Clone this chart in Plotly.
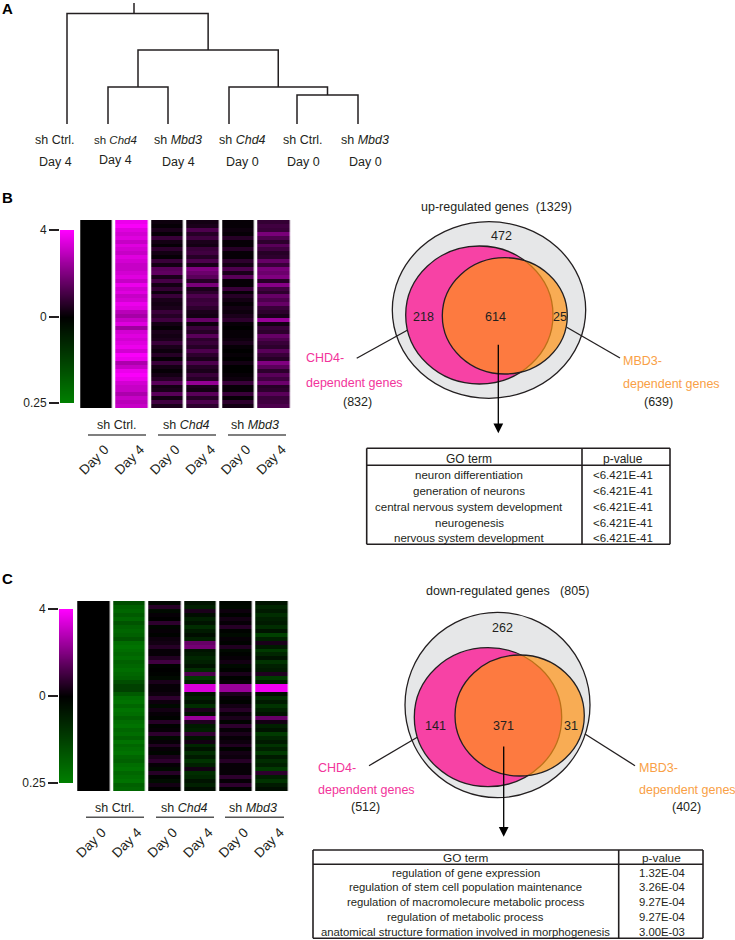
import plotly.graph_objects as go

W, H = 735, 940
FONT = "Liberation Sans"
INK = "#231f20"
PINK = "#f2349b"
ORANGE = "#f9a045"

# panel A: dendrogram
leaf_names = ["sh Ctrl.", "sh <i>Chd4</i>", "sh <i>Mbd3</i>", "sh <i>Chd4</i>", "sh Ctrl.", "sh <i>Mbd3</i>"]
leaf_days = ["Day 4", "Day 4", "Day 4", "Day 0", "Day 0", "Day 0"]
leaf_x = [67, 108, 168, 229, 297, 358]
leaf_label_x = [55, 115, 178, 242, 303, 365]
leaf_y = 124
# (left node, right node, merge y), nodes 0-5 are leaves, then each merge adds one
merges = [(1, 2, 87), (4, 5, 95), (3, 7, 87), (6, 8, 50), (0, 9, 13.5)]

# panels B and C: heatmap rows, log2 fold change, top to bottom
sample_days = ["Day 0", "Day 4", "Day 0", "Day 4", "Day 0", "Day 4"]
groups = ["sh Ctrl.", "sh <i>Chd4</i>", "sh <i>Mbd3</i>"]

up_ctrl_d0 = [0] * 48
up_ctrl_d4 = [1.85, 1.95, 1.75, 1.65, 1.75, 1.55, 1.75, 1.65, 1.55, 1.75, 1.65, 1.55, 1.55, 1.65, 1.75, 1.55, 1.85, 1.65, 1.75, 1.55, 1.65, 1.85, 1.75, 1.45,
              1.3, 1.55, 1.75, 1.25, 1.65, 1.75, 1.65, 1.75, 1.85, 1.65, 1.95, 1.85, 1.35, 1.55, 1.85, 1.95, 1.85, 1.65, 1.55, 1.55, 1.35, 1.55, 1.45, 1.55]
up_chd4_d0 = [0.1, 0.05, 0.2, 0.05, 0.45, 0.15, 0.05, 0.35, 0.15, 0.05, 0.45, 0.15, 0.7, 0.75, 0.2, 0.55, 0.15, 0.4, 0.1, 0.45, 0.2, 0.15, 0.2, 0.45,
              0.3, 0.5, 0.15, 0.05, 0.2, 0.15, 0.2, 0.45, 0.2, 0.1, 0.3, 0.05, 0.45, 0.15, 0.05, 0.15, 0.3, 0.7, 0.15, 0.2, 0.7, 0.15, 0.5, 0.2]
up_chd4_d4 = [0.15, 0.2, 0.6, 0.3, 0.5, 0.2, 0.15, 0.45, 0.5, 0.3, 0.6, 0.2, 1.0, 0.85, 0.7, 0.3, 0.95, 0.2, 0.35, 0.6, 0.45, 0.5, 0.35, 0.2,
              0.15, 0.8, 0.1, 0.45, 0.3, 0.7, 0.35, 0.45, 0.3, 0.6, 0.35, 0.2, 0.6, 0.3, 0.2, 0.45, 0.3, 1.15, 0.2, 0.15, 0.7, 0.3, 0.6, 0.35]
up_mbd3_d0 = [0.05, 0.05, 0.1, 0.05, 0.3, 0.05, 0.05, 0.3, 0.05, 0.05, 0.35, 0.15, 0.6, 0.2, 0.7, 0.05, 0.05, 0.45, 0.05, 0.3, 0.15, 0.05, 0.15, 0.1,
              0.2, 0.35, 0.05, 0.0, 0.05, 0.05, 0.1, 0.2, 0.05, 0.0, 0.05, 0.0, 0.15, 0.0, 0.0, 0.05, 0.1, 0.45, 0.05, 0.05, 0.45, 0.05, 0.35, 0.15]
up_mbd3_d4 = [0.4, 0.5, 0.45, 0.95, 0.6, 0.35, 0.7, 0.5, 0.3, 0.35, 0.8, 0.45, 0.95, 0.85, 1.0, 0.3, 1.05, 0.5, 0.35, 0.8, 0.6, 0.8, 0.45, 0.35,
              0.2, 1.2, 0.15, 0.45, 0.35, 0.8, 0.6, 0.45, 0.35, 0.7, 0.45, 0.3, 1.0, 0.7, 0.35, 0.7, 0.5, 0.85, 0.3, 0.35, 0.7, 0.45, 0.5, 0.6]

down_ctrl_d0 = [0] * 48
down_ctrl_d4 = [-1.2, -1.5, -1.6, -1.4, -1.6, -1.3, -1.5, -1.6, -1.5, -1.3, -1.7, -1.8, -1.7, -1.6, -1.7, -1.5, -1.6, -1.7, -1.6, -1.5, -1.2, -1.0, -1.0, -1.4,
                -1.7, -1.8, -1.6, -1.8, -1.7, -1.5, -1.7, -1.8, -1.6, -1.7, -1.5, -1.8, -1.6, -1.7, -1.8, -1.6, -1.5, -1.7, -1.8, -1.6, -1.7, -1.8, -1.5, -1.6]
down_chd4_d0 = [-0.1, 0.3, -0.15, 0.05, 0.0, 0.35, -0.1, 0.05, -0.05, 0.1, 0.15, 0.3, 0.05, 0.05, 0.25, 0.5, -0.05, 0.0, -0.05, -0.15, 0.2, 0.05, 0.05, 0.1,
                0.35, 0.1, -0.15, 0.15, 0.05, -0.05, 0.3, -0.05, 0.05, 0.35, -0.15, 0.05, 0.25, 0.05, -0.1, 0.2, 0.35, 0.05, -0.15, 0.3, -0.05, -0.2, 0.15, 0.0]
down_chd4_d4 = [-0.3, -0.5, 0.2, -0.2, -0.5, -0.3, -0.7, -0.4, -0.2, -0.5, 0.8, 0.9, -0.3, -0.4, -0.6, -0.5, -0.3, -0.7, 0.6, -0.9, -0.5, 1.7, 1.7, -0.3,
                -0.5, -0.3, -0.7, 0.2, -0.2, 1.2, 0.25, -0.4, -0.5, 0.4, -0.3, 0.15, -0.6, -0.3, -0.7, -0.4, -0.8, -0.5, 0.15, -0.7, -0.6, -0.3, -0.5, -0.2]
down_mbd3_d0 = [-0.1, -0.15, 0.1, -0.05, 0.15, 0.05, 0.3, -0.05, -0.15, 0.05, -0.05, 0.25, -0.15, -0.05, 0.05, 0.15, -0.15, -0.05, 0.2, -0.05, 0.05, 1.2, 1.2, 0.2,
                0.05, -0.05, 0.15, 0.3, 0.05, 0.2, -0.05, 0.35, 0.05, 0.2, 0.05, 0.1, 0.25, -0.05, 0.15, 0.1, 0.3, 0.05, 0.05, 0.05, 0.35, 0.05, 0.35, -0.05]
down_mbd3_d4 = [-0.3, -0.6, -0.4, -0.7, -0.5, -0.4, -0.7, -0.3, -1.0, -0.5, 0.2, -0.4, -0.9, -0.6, -0.3, -0.8, -0.5, -0.4, 0.25, -0.9, -0.5, 1.9, 1.9, -0.2,
                -0.7, -0.4, -0.8, -0.5, -0.3, 0.8, 0.15, -0.5, -0.3, -0.9, -0.6, -0.4, -0.8, -0.5, -0.9, -0.4, -0.7, -0.5, -0.9, 0.35, -0.5, -0.8, -0.4, -0.2]

scale_levels = [2, 1.75, 1.5, 1.25, 1, 0.75, 0.5, 0.25, 0, -0.25, -0.5, -0.75, -1, -1.25, -1.5, -1.75, -2]
scale_ticks = [2, 0, -2]
scale_labels = ["4", "0", "0.25"]

# venn counts and GO tables
up_title = "up-regulated genes  (1329)"
up_counts = ["472", "218", "614", "25"]
up_totals = ["(832)", "(639)"]
up_terms = ["neuron differentiation", "generation of neurons", "central nervous system development",
            "neurogenesis", "nervous system development"]
up_pvalues = ["<6.421E-41"] * 5

down_title = "down-regulated genes   (805)"
down_counts = ["262", "141", "371", "31"]
down_totals = ["(512)", "(402)"]
down_terms = ["regulation of gene expression", "regulation of stem cell population maintenance",
              "regulation of macromolecure metabolic process", "regulation of metabolic process",
              "anatomical structure formation involved in morphogenesis"]
down_pvalues = ["1.32E-04", "3.26E-04", "9.27E-04", "9.27E-04", "3.00E-03"]

colorscale = [[0, "rgb(0,128,0)"], [0.5, "rgb(0,0,0)"], [1, "rgb(255,0,255)"]]

fig = go.Figure()


def px_dom(a, b, size):
    return [a / size, b / size]


def py_dom(top, bottom):
    return [1 - bottom / H, 1 - top / H]


def heat_panel(n, columns, left, right, top, bottom):
    # one row per gene, six samples, white gaps between the samples
    rows = [list(r) for r in zip(*columns)]
    fig.add_trace(go.Heatmap(z=rows, x=list(range(6)), y=list(range(48)), zmin=-2, zmax=2,
                             colorscale=colorscale, showscale=False, xgap=3.5, hoverinfo="skip",
                             xaxis=f"x{n}", yaxis=f"y{n}"))
    fig.update_layout({
        f"xaxis{n}": dict(domain=px_dom(left, right, W), range=[-0.5, 5.5], anchor=f"y{n}", automargin=False,
                          tickmode="array", tickvals=list(range(6)), ticktext=sample_days, tickangle=-45,
                          ticks="", ticklabelstandoff=30, ticklabelshift=8, showgrid=False, zeroline=False,
                          showline=False, tickfont=dict(family=FONT, size=13.5, color=INK)),
        f"yaxis{n}": dict(domain=py_dom(top, bottom), range=[47.5, -0.5], anchor=f"x{n}", visible=False,
                          automargin=False),
    })


def scale_bar(n, left, right, top, bottom):
    fig.add_trace(go.Heatmap(z=[[v, v] for v in scale_levels], x=[0, 1], y=scale_levels, zmin=-2, zmax=2,
                             colorscale=colorscale, showscale=False, zsmooth="best", hoverinfo="skip",
                             xaxis=f"x{n}", yaxis=f"y{n}"))
    fig.update_layout({
        f"xaxis{n}": dict(domain=px_dom(left, right, W), range=[0, 1], anchor=f"y{n}", visible=False,
                          automargin=False),
        f"yaxis{n}": dict(domain=py_dom(top, bottom), range=[-2, 2], anchor=f"x{n}", tickmode="array",
                          tickvals=scale_ticks, ticktext=scale_labels, ticks="outside", ticklen=10,
                          tickwidth=1.5, tickcolor=INK, showgrid=False, zeroline=False, showline=False,
                          automargin=False, tickfont=dict(family=FONT, size=12, color=INK)),
    })


heat_panel(2, [up_ctrl_d0, up_ctrl_d4, up_chd4_d0, up_chd4_d4, up_mbd3_d0, up_mbd3_d4], 79.2, 291.8, 220, 408)
heat_panel(3, [down_ctrl_d0, down_ctrl_d4, down_chd4_d0, down_chd4_d4, down_mbd3_d0, down_mbd3_d4], 76.2, 289.8, 601, 791)
scale_bar(4, 60, 74, 230, 403)
scale_bar(5, 59, 73, 609, 783)

# dendrogram on the page axes
node_x = list(leaf_x)
node_y = [leaf_y] * 6
seg_x, seg_y = [], []
for a, b, y in merges:
    seg_x += [node_x[a], node_x[a], node_x[b], node_x[b], None]
    seg_y += [node_y[a], y, y, node_y[b], None]
    node_x.append((node_x[a] + node_x[b]) / 2)
    node_y.append(y)
seg_x += [134, 134]
seg_y += [merges[-1][2], 3]
fig.add_trace(go.Scatter(x=seg_x, y=seg_y, mode="lines", line=dict(color=INK, width=1.5), hoverinfo="skip",
                         showlegend=False, xaxis="x", yaxis="y"))

shapes = []
notes = []


def line(x0, y0, x1, y1, width=1.3, color=INK):
    shapes.append(dict(type="line", xref="x", yref="y", x0=x0, y0=y0, x1=x1, y1=y1,
                       line=dict(color=color, width=width)))


def ellipse(x0, y0, x1, y1, fill):
    shapes.append(dict(type="circle", xref="x", yref="y", x0=x0, y0=y0, x1=x1, y1=y1, fillcolor=fill,
                       line=dict(color=INK, width=1.3)))


def text(x, y, s, size=12.5, color=INK, anchor="center", bold=False):
    s = f"<b>{s}</b>" if bold else s
    notes.append(dict(x=x, y=y, xref="x", yref="y", text=s, showarrow=False, xanchor=anchor, yanchor="middle",
                      font=dict(family=FONT, size=size, color=color)))


def arrow(x, y0, y1):
    notes.append(dict(x=x, y=y1, ax=x, ay=y0, xref="x", yref="y", axref="x", ayref="y", text="", showarrow=True,
                      arrowhead=2, arrowsize=1.5, arrowwidth=1.3, arrowcolor="#000000"))


def venn(outer, pink, orange):
    ellipse(*outer, "#e6e7e8")
    ellipse(*pink, "#f742a5")
    ellipse(*orange, "rgba(255,147,22,0.7)")


def go_table(left, mid, right, top, head, bottom, header_y, rows_y, term_x, p_x, terms, pvalues, size):
    for y in (top, head, bottom):
        line(left, y, right, y, 1.6)
    for x in (left, mid, right):
        line(x, top, x, bottom, 1.6)
    text(term_x, header_y, "GO term", size + 0.5)
    text(p_x, header_y, "p-value", size + 0.5)
    for y, t, p in zip(rows_y, terms, pvalues):
        text(term_x, y, t, size)
        text(p_x, y, p, size)


for s, y in (("A", 8), ("B", 197), ("C", 578)):
    text(0, y, s, 15, "#000000", "left", True)

for i in range(6):
    text(leaf_label_x[i], 139.5, leaf_names[i], 11.5 if i == 1 else 12.5)
    text(leaf_label_x[i], 160 if i == 1 else 161.5, leaf_days[i], 12.5)

for x0, x1, label_x, s in ((88, 146, 117, groups[0]), (158, 216, 186, groups[1]), (228, 286, 255, groups[2])):
    text(label_x, 425, s)
    line(x0, 435, x1, 435, 1.5, "#555555")
for x0, x1, label_x, s in ((86, 144, 115, groups[0]), (156, 214, 184, groups[1]), (225, 284, 253, groups[2])):
    text(label_x, 807.5, s)
    line(x0, 817.3, x1, 817.3, 1.5, "#555555")

# up-regulated venn
venn((392.3, 221.7, 585.7, 398.3), (405.7, 246, 553, 384), (442.3, 257.7, 567.3, 374))
text(496.7, 207, up_title)
for (x, y), s in zip(((501.7, 236), (423, 316.7), (495, 316.7), (560, 316.7)), up_counts):
    text(x, y, s)
line(356.7, 358.3, 407.7, 330)
line(566.7, 327.3, 620, 358)
text(304, 358, "CHD4-", 12.5, PINK, "left")
text(304, 383, "dependent genes", 12.5, PINK, "left")
text(357.5, 401.7, up_totals[0])
text(621, 361, "MBD3-", 12.5, ORANGE, "left")
text(621, 384, "dependent genes", 12.5, ORANGE, "left")
text(658, 402, up_totals[1])
arrow(498.3, 343.3, 433.3)
go_table(366.7, 582, 670, 448.3, 465.3, 544.3, 459, [475.3, 491, 506.7, 522.7, 538], 469, 623,
         up_terms, up_pvalues, 11.5)

# down-regulated venn
venn((405, 612.3, 590, 797.7), (414.3, 647.7, 561.7, 786.7), (455, 655, 584.3, 776))
text(507, 590.7, down_title)
for (x, y), s in zip(((502.7, 628.3), (435.7, 725.7), (503.3, 725.7), (570.7, 725.7)), down_counts):
    text(x, y, s)
line(369, 765.7, 417.3, 737.3)
line(585, 734, 635, 765.7)
text(316, 767.7, "CHD4-", 12.5, PINK, "left")
text(316, 790, "dependent genes", 12.5, PINK, "left")
text(365, 807.3, down_totals[0])
text(636.7, 768, "MBD3-", 12.5, ORANGE, "left")
text(636.7, 790, "dependent genes", 12.5, ORANGE, "left")
text(686.7, 807.3, down_totals[1])
arrow(503.7, 745, 836.7)
go_table(313, 618.7, 703, 850, 864.3, 938.3, 858, [872.7, 887.3, 902.3, 917.3, 932], 465.7, 661.7,
         down_terms, down_pvalues, 11.3)

fig.update_layout(
    width=W, height=H, margin=dict(l=0, r=0, t=0, b=0), showlegend=False,
    paper_bgcolor="white", plot_bgcolor="rgba(0,0,0,0)",
    xaxis=dict(domain=[0, 1], range=[0, W], visible=False, anchor="y", automargin=False),
    yaxis=dict(domain=[0, 1], range=[H, 0], visible=False, anchor="x", automargin=False),
    shapes=shapes, annotations=notes,
)

# the page's default body margin would push the figure off the window
fig.write_html("out.html", config={"displayModeBar": False}, post_script="document.body.style.margin = '0';")
